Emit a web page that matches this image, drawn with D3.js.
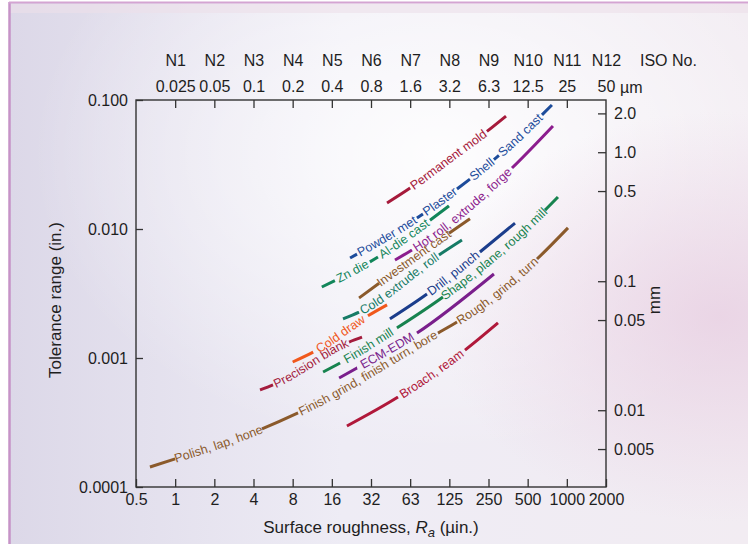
<!DOCTYPE html>
<html>
<head>
<meta charset="utf-8">
<script src="https://cdn.jsdelivr.net/npm/d3@7"></script>
<style>
  body { margin: 0; background: #fff; }
  svg { display: block; font-family: "Liberation Sans", Arial, Helvetica, sans-serif; }
  .axis text { font-size: 16px; fill: #1e1e1e; }
  .axis line { stroke: #333; stroke-width: 1.3; }
  .axis .domain { display: none; }
  .title { font-size: 17px; fill: #1e1e1e; }
  .lbl { font-size: 12.5px; }
</style>
</head>
<body>
<div id="chart"></div>
<script>
// bottom axis: surface roughness Ra in micro-inches (doubling steps)
const raTicks = [0.5, 1, 2, 4, 8, 16, 32, 64, 128, 256, 512, 1024, 2048];
const raLabels = ['0.5', '1', '2', '4', '8', '16', '32', '63', '125', '250', '500', '1000', '2000'];
// top axis: same positions in micrometres, plus ISO roughness numbers
const topTicks = [1, 2, 4, 8, 16, 32, 64, 128, 256, 512, 1024, 2048];
const umLabels = ['0.025', '0.05', '0.1', '0.2', '0.4', '0.8', '1.6', '3.2', '6.3', '12.5', '25', '50'];
const isoLabels = ['N1', 'N2', 'N3', 'N4', 'N5', 'N6', 'N7', 'N8', 'N9', 'N10', 'N11', 'N12'];
// left axis in inches, right axis in mm
const tolTicks = [0.1, 0.01, 0.001, 0.0001];
const tolLabels = ['0.100', '0.010', '0.001', '0.0001'];
const mmTicks = [2.0, 1.0, 0.5, 0.1, 0.05, 0.01, 0.005];
const mmLabels = ['2.0', '1.0', '0.5', '0.1', '0.05', '0.01', '0.005'];

// each process track as [Ra (µin.), tolerance (in.)]
const trackPoints = [
  [[42.5, 0.0159], [66, 0.0212], [125, 0.0343], [240, 0.0555], [349, 0.0751]],
  [[22.1, 0.00596], [76.1, 0.0126], [146.6, 0.0204], [297, 0.0361], [787, 0.0915]],
  [[13.4, 0.00355], [36.2, 0.00607], [90.9, 0.0117], [127.2, 0.0151]],
  [[48.9, 0.00575], [66.1, 0.00687], [388, 0.0297], [801, 0.0629]],
  [[25.9, 0.00292], [68.5, 0.00596], [184.4, 0.0120]],
  [[19.5, 0.00201], [25.9, 0.00227], [106.5, 0.00629], [160.1, 0.00822]],
  [[8.0, 0.000931], [11.5, 0.00111], [29.3, 0.00208], [42.5, 0.00258]],
  [[4.49, 0.000565], [5.65, 0.000618], [21.7, 0.00133], [27.3, 0.00145]],
  [[44.8, 0.00201], [86.2, 0.00313], [220, 0.00663], [409, 0.0111]],
  [[13.7, 0.000779], [18.5, 0.000915], [50.7, 0.00171], [114.4, 0.00297], [696, 0.0140], [875, 0.0177]],
  [[18.2, 0.000700], [25.0, 0.000837], [72.2, 0.00156], [282, 0.00448]],
  [[0.64, 0.000143], [1.0, 0.000165], [4.65, 0.000282], [8.8, 0.000375], [104.7, 0.00156], [146.6, 0.00190], [604, 0.00585], [1045, 0.0102]],
  [[20.9, 0.000297], [51.6, 0.000498], [168.8, 0.00115], [302.8, 0.00187]]
];
// drawn pieces of each track, as Ra ranges (labels sit in the gaps)
const trackDashes = [
  [[42.5, 64], [249, 349]],
  [[22.1, 25], [72.2, 80.3], [146.6, 184.4], [282, 308], [660, 787]],
  [[13.4, 16.9], [31.4, 36.2], [90.9, 127.2]],
  [[48.9, 66.1], [388, 801]],
  [[25.9, 36.9], [127.2, 184.4]],
  [[19.5, 25.9], [106.5, 160.1]],
  [[8.0, 11.5], [30.3, 42.5]],
  [[4.49, 5.65], [21.7, 27.3]],
  [[44.8, 86.2], [220, 409]],
  [[13.7, 18.5], [50.7, 114.4], [696, 875]],
  [[18.2, 25.0], [72.2, 282]],
  [[0.64, 1.0], [4.65, 8.8], [104.7, 146.6], [604, 1045]],
  [[20.9, 51.6], [168.8, 302.8]]
];
const trackLabels = [
  ['Permanent mold'],
  ['Powder met', 'Plaster', 'Shell', 'Sand cast'],
  ['Zn die', 'Al-die cast'],
  ['Hot roll, extrude, forge'],
  ['Investment cast'],
  ['Cold extrude, roll'],
  ['Cold draw'],
  ['Precision blank'],
  ['Drill, punch'],
  ['Finish mill', 'Shape, plane, rough mill'],
  ['ECM-EDM'],
  ['Polish, lap, hone', 'Finish grind, finish turn, bore', 'Rough, grind, turn'],
  ['Broach, ream']
];
const trackColors = ['#a61a3b', '#1d4c9b', '#12865a', '#8c1d8e', '#8b5a2b', '#167b66', '#f0581c',
  '#a41c3d', '#1b3d8c', '#17834f', '#7a1f8c', '#8b5a2b', '#b0183a'];

const W = 748, H = 544;
const svg = d3.select('#chart').append('svg').attr('width', W).attr('height', H);

// background panel
const defs = svg.append('defs');
const lin = defs.append('linearGradient').attr('id', 'bgLin');
lin.append('stop').attr('offset', '0%').attr('stop-color', '#dcd8e8');
lin.append('stop').attr('offset', '45%').attr('stop-color', '#eeecf5');
lin.append('stop').attr('offset', '100%').attr('stop-color', '#f2ecf2');
const glow = defs.append('radialGradient').attr('id', 'bgGlow').attr('cx', '58%').attr('cy', '28%').attr('r', '55%');
glow.append('stop').attr('offset', '0%').attr('stop-color', '#fff').attr('stop-opacity', 0.9);
glow.append('stop').attr('offset', '100%').attr('stop-color', '#fff').attr('stop-opacity', 0);
const pink = defs.append('radialGradient').attr('id', 'bgPink').attr('cx', '96%').attr('cy', '58%').attr('r', '38%');
pink.append('stop').attr('offset', '0%').attr('stop-color', '#e8cfe2').attr('stop-opacity', 0.8);
pink.append('stop').attr('offset', '100%').attr('stop-color', '#e8cfe2').attr('stop-opacity', 0);

svg.append('rect').attr('x', 10).attr('y', 3).attr('width', W - 10).attr('height', H - 3).attr('fill', 'url(#bgLin)');
svg.append('rect').attr('x', 10).attr('y', 3).attr('width', W - 10).attr('height', H - 3).attr('fill', 'url(#bgGlow)');
svg.append('rect').attr('x', 10).attr('y', 3).attr('width', W - 10).attr('height', H - 3).attr('fill', 'url(#bgPink)');
svg.append('rect').attr('x', 10).attr('y', 4).attr('width', W - 10).attr('height', 9).attr('fill', '#eddfea').attr('opacity', 0.6);
svg.append('line').attr('x1', 9.5).attr('x2', 9.5).attr('y1', 2).attr('y2', H).attr('stroke', '#c693c7').attr('stroke-width', 2.5);
svg.append('line').attr('x1', 9).attr('x2', W).attr('y1', 2.5).attr('y2', 2.5).attr('stroke', '#d4a4d2').attr('stroke-width', 2);

// scales
const x = d3.scaleLog().base(2).domain([0.5, 2048]).range([136, 606]);
const y = d3.scaleLog().domain([0.0001, 0.1]).range([487, 100]);
const yMm = d3.scaleLog().domain([0.0001 * 25.4, 0.1 * 25.4]).range([487, 100]);

// axes (ticks point inward)
svg.append('g').attr('class', 'axis').attr('transform', 'translate(0,487)')
  .call(d3.axisBottom(x).tickValues(raTicks).tickFormat((d, i) => raLabels[i]).tickSizeInner(-8).tickSizeOuter(0).tickPadding(7));
svg.append('g').attr('class', 'axis').attr('transform', 'translate(0,100)')
  .call(d3.axisTop(x).tickValues(topTicks).tickFormat((d, i) => umLabels[i]).tickSizeInner(-8).tickSizeOuter(0).tickPadding(8))
  .selectAll('.tick').filter(d => d === 2048).select('line').remove();
svg.append('g').attr('class', 'axis').attr('transform', 'translate(0,100)')
  .call(d3.axisTop(x).tickValues(topTicks).tickFormat((d, i) => isoLabels[i]).tickSize(0).tickPadding(34))
  .selectAll('line').remove();
svg.append('g').attr('class', 'axis').attr('transform', 'translate(136,0)')
  .call(d3.axisLeft(y).tickValues(tolTicks).tickFormat((d, i) => tolLabels[i]).tickSizeInner(-7).tickSizeOuter(0).tickPadding(8));
svg.append('g').attr('class', 'axis').attr('transform', 'translate(606,0)')
  .call(d3.axisRight(yMm).tickValues(mmTicks).tickFormat((d, i) => mmLabels[i]).tickSizeInner(-8).tickSizeOuter(0).tickPadding(8));

// frame
svg.append('rect').attr('x', 136).attr('y', 100).attr('width', 470).attr('height', 387)
  .attr('fill', 'none').attr('stroke', '#333').attr('stroke-width', 1.4);

// unit / axis titles
svg.append('text').attr('class', 'title').attr('x', 620).attr('y', 93).style('font-size', '16px').text('µm');
svg.append('text').attr('class', 'title').attr('x', 640).attr('y', 66).style('font-size', '16px').text('ISO No.');
svg.append('text').attr('class', 'title').attr('text-anchor', 'middle')
  .attr('transform', 'translate(61,300) rotate(-90)').text('Tolerance range (in.)');
svg.append('text').attr('class', 'title').attr('text-anchor', 'middle')
  .attr('transform', 'translate(660,300) rotate(-90)').text('mm');
const xt = svg.append('text').attr('class', 'title').attr('text-anchor', 'middle').attr('x', 371).attr('y', 533);
xt.append('tspan').text('Surface roughness, ');
xt.append('tspan').style('font-style', 'italic').text('R');
xt.append('tspan').style('font-style', 'italic').style('font-size', '13px').attr('dy', 4).text('a');
xt.append('tspan').attr('dy', -4).text(' (µin.)');

// process tracks: one curve each, broken where the labels sit
const line = d3.line().x(d => x(d[0])).y(d => y(d[1])).curve(d3.curveMonotoneX);
const g = svg.append('g');

trackPoints.forEach(function(pts, i) {
  const color = trackColors[i];
  const path = g.append('path').attr('id', 'track' + i).attr('d', line(pts))
    .attr('fill', 'none').attr('stroke', color).attr('stroke-width', 3);
  const node = path.node();
  const total = node.getTotalLength();
  // path length at a given Ra (x grows along every track)
  function lenAt(ra) {
    const px = x(ra);
    let lo = 0, hi = total;
    for (let k = 0; k < 30; k++) {
      const mid = (lo + hi) / 2;
      if (node.getPointAtLength(mid).x < px) lo = mid; else hi = mid;
    }
    return (lo + hi) / 2;
  }
  const spans = trackDashes[i].map(d => [lenAt(d[0]), lenAt(d[1])]);
  const dash = [0];
  let pos = 0;
  spans.forEach(s => { dash.push(s[0] - pos, s[1] - s[0]); pos = s[1]; });
  dash.push(total + 10);
  path.attr('stroke-dasharray', dash.join(' '));

  trackLabels[i].forEach(function(txt, j) {
    const mid = (spans[j][1] + spans[j + 1][0]) / 2;
    g.append('text').attr('class', 'lbl').attr('fill', color).attr('dy', '0.32em')
      .append('textPath').attr('href', '#track' + i).attr('startOffset', mid)
      .attr('text-anchor', 'middle').text(txt);
  });
});
</script>
</body>
</html>
